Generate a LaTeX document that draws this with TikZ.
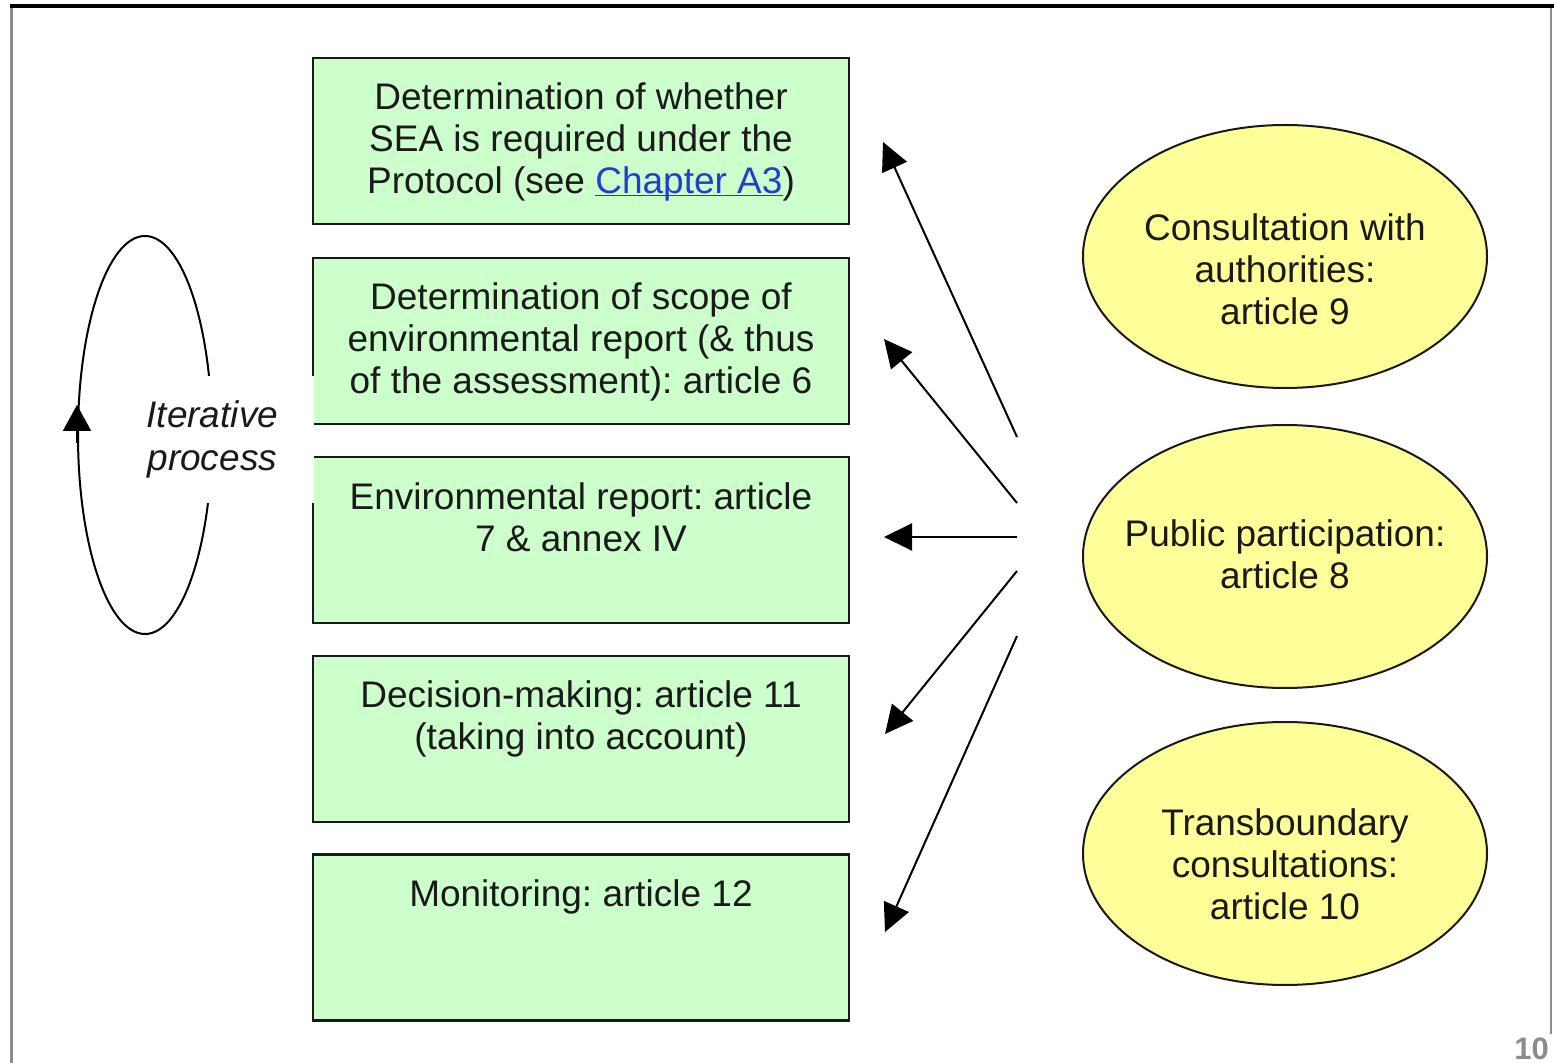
\documentclass[tikz,border=0pt]{standalone}
\usepackage{fontspec}
\setmainfont{Liberation Sans}
\usetikzlibrary{arrows.meta,shapes.geometric}
\definecolor{boxgreen}{HTML}{CCFFCC}
\definecolor{ellyellow}{HTML}{FFFF99}
\definecolor{linkblue}{HTML}{1F3FD0}
\definecolor{txt}{HTML}{1A1A1A}
\definecolor{framegray}{HTML}{8C8C8C}
\newcommand\linkul[1]{\setbox0=\hbox{#1}\rlap{\rule[-1.6pt]{\wd0}{0.7pt}}\box0}
\frenchspacing
\begin{document}
\frenchspacing
\begin{tikzpicture}[x=0.5pt,y=-0.5pt,
  stagebox/.style={rectangle, draw=black!90, line width=1.25pt, fill=boxgreen, minimum width=268pt, minimum height=83pt, inner sep=0pt},
  stagetext/.style={anchor=north, align=center, inner sep=0pt, text=txt, font=\fontsize{18.5}{21}\selectfont\frenchspacing},
  consult/.style={ellipse, draw=black!90, line width=1pt, fill=ellyellow, minimum width=202pt, minimum height=131.5pt, inner sep=0pt},
  consulttext/.style={align=center, inner sep=0pt, text=txt, font=\fontsize{18.5}{21}\selectfont\frenchspacing},
  influence/.style={line width=1pt, -{Triangle[length=14pt,width=13.5pt]}},
]
\useasboundingbox (0,0) rectangle (1554,1063);
% frame
\draw[framegray, line width=1.5pt] (11,6) -- (11,1063);
\draw[framegray, line width=1.2pt] (1551,6) -- (1551,1034);
\draw[black, line width=1.6pt] (10,6) -- (1554,6);
\node[anchor=base west, inner sep=0pt, text=framegray, font=\fontsize{15.5}{18}\selectfont\bfseries] (pg) at (1514,1059) {10};

% iterative loop
\node[ellipse, draw=black, line width=1pt, minimum width=67pt, minimum height=199pt, inner sep=0pt] (loop) at (145,435) {};
\draw[line width=1pt, -{Triangle[length=13pt,width=14pt]}] ([yshift=-4pt]loop.west) -- ([yshift=15pt]loop.west);

% stage boxes
\node[stagebox] (b1) at (581,141) {};
\node[stagebox] (b2) at (581,341) {};
\node[stagebox] (b3) at (581,540) {};
\node[stagebox] (b4) at (581,739) {};
\node[stagebox] (b5) at (581,937.5) {};

\node[stagetext] (t1) at (581,82) {Determination of whether\\SEA is required under the\\Protocol (see \textcolor{linkblue}{\linkul{Chapter A3}})};
\node[stagetext] (t2) at (581,282) {Determination of scope of\\environmental report (\& thus\\of the assessment): article 6};
\node[stagetext] (t3) at (581,482) {Environmental report: article\\7 \& annex IV};
\node[stagetext] (t4) at (581,680) {Decision-making: article 11\\(taking into account)};
\node[stagetext] (t5) at (581,879) {Monitoring: article 12};

% label with white background (covers part of loop and box edges)
\node[fill=white, minimum width=102pt, minimum height=63.5pt, inner sep=0pt, align=center, text=txt, font=\fontsize{18.5}{21.5}\selectfont\itshape] (iter) at (212.3,439.5) {Iterative\\process};

% consultation ellipses
\node[consult] (c9) at (1285,256.5) {};
\node[consulttext] (c9t) at (1285,269) {Consultation with\\authorities:\\article 9};
\node[consult] (c8) at (1285,556.5) {};
\node[consulttext] (c8t) at (1285,554) {Public participation:\\article 8};
\node[consult] (c10) at (1285,853.5) {};
\node[consulttext] (c10t) at (1285,864) {Transboundary\\consultations:\\article 10};

% influence arrows
\coordinate (s1) at (1017,437); \coordinate (e1) at (883,142);
\coordinate (s2) at (1017,503); \coordinate (e2) at (884,339);
\coordinate (s3) at (1017,537); \coordinate (e3) at (884,537);
\coordinate (s4) at (1017,571); \coordinate (e4) at (885,734);
\coordinate (s5) at (1017,636); \coordinate (e5) at (885,932);
\draw[influence] (s1) -- (e1);
\draw[influence] (s2) -- (e2);
\draw[influence] (s3) -- (e3);
\draw[influence] (s4) -- (e4);
\draw[influence] (s5) -- (e5);
\end{tikzpicture}
\end{document}
